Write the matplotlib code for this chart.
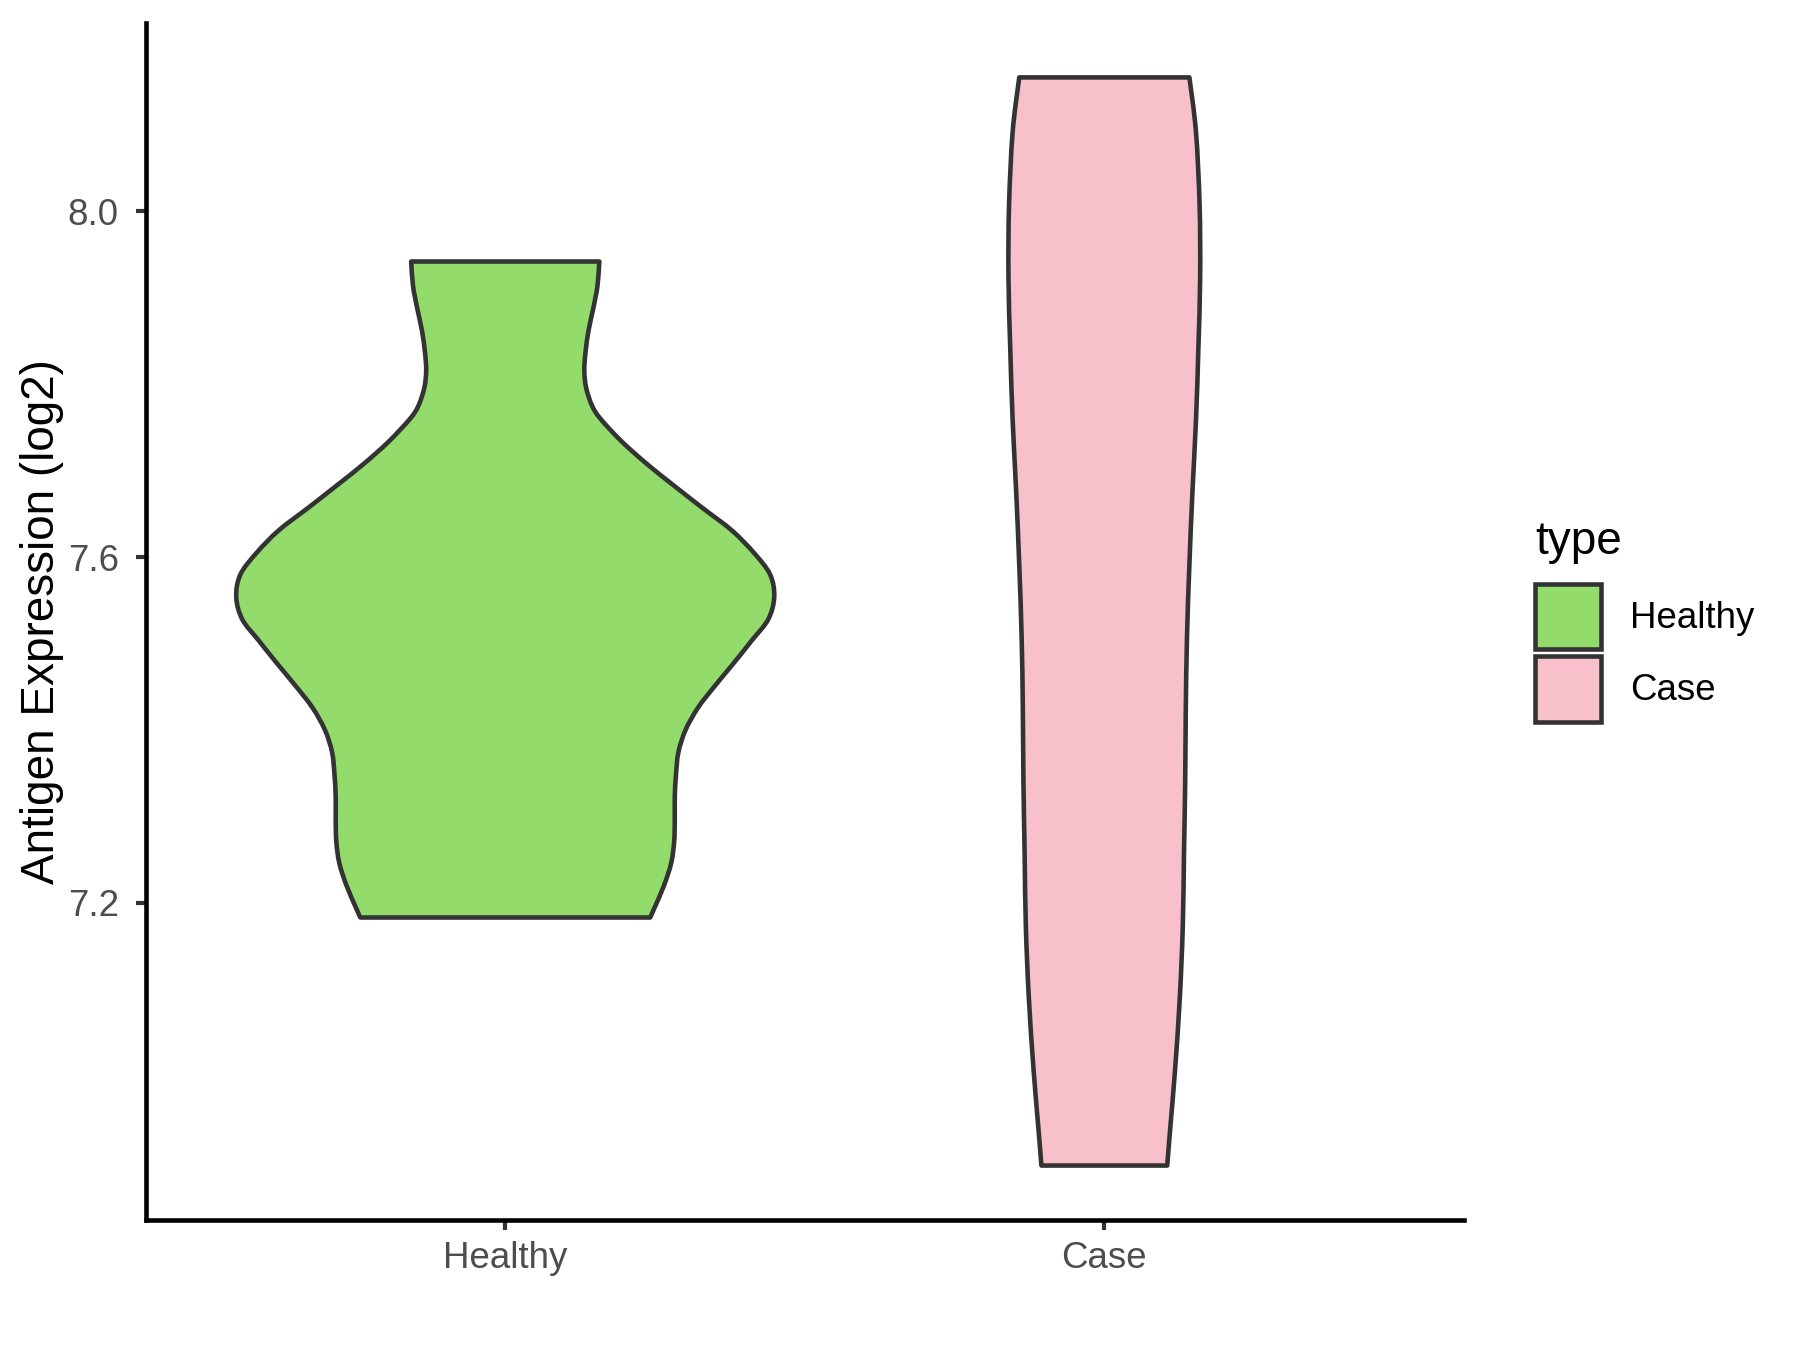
import numpy as np
import matplotlib.pyplot as plt
from matplotlib.patches import Patch, PathPatch
from matplotlib.path import Path

plt.rcParams['font.family'] = ['Liberation Sans', 'DejaVu Sans']

# groups and fill colours (ggplot style)
groups = ['Healthy', 'Case']
fills = ['#93DB6B', '#F7C0CB']

# violin outlines: expression value and half width
healthy_y = [7.942, 7.914, 7.888, 7.862, 7.837, 7.816, 7.796, 7.775, 7.760,
             7.734, 7.708, 7.683, 7.657, 7.631, 7.605, 7.580, 7.554, 7.528,
             7.503, 7.477, 7.451, 7.426, 7.400, 7.374, 7.348, 7.323, 7.297,
             7.271, 7.246, 7.220, 7.194, 7.183]
healthy_w = [0.157, 0.154, 0.147, 0.139, 0.134, 0.132, 0.135, 0.145, 0.159,
             0.194, 0.236, 0.281, 0.329, 0.378, 0.415, 0.442, 0.449, 0.439,
             0.411, 0.381, 0.350, 0.322, 0.301, 0.289, 0.285, 0.283, 0.283,
             0.282, 0.277, 0.265, 0.249, 0.242]

case_y = [8.155, 8.092, 8.008, 7.925, 7.841, 7.758, 7.674, 7.591, 7.507,
          7.424, 7.340, 7.257, 7.173, 7.090, 7.006, 6.939, 6.896]
case_w = [0.142, 0.153, 0.159, 0.160, 0.157, 0.153, 0.147, 0.142, 0.138,
          0.136, 0.135, 0.133, 0.131, 0.126, 0.118, 0.110, 0.105]

outlines = [(healthy_y, healthy_w), (case_y, case_w)]


def smooth_side(pts):
    # catmull-rom through the points, written as cubic bezier segments
    p = np.vstack([pts[0], pts, pts[-1]])
    verts, codes = [], []
    for i in range(1, len(p) - 2):
        c1 = p[i] + (p[i + 1] - p[i - 1]) / 6
        c2 = p[i + 1] - (p[i + 2] - p[i]) / 6
        verts += [c1, c2, p[i + 1]]
        codes += [Path.CURVE4] * 3
    return verts, codes


fig = plt.figure(figsize=(6, 4.5), dpi=300)
ax = fig.add_axes([0.081, 0.0963, 0.7322, 0.8867])

for i, (ys, ws) in enumerate(outlines):
    pos = i + 1
    ys = np.array(ys)
    ws = np.array(ws)
    right = np.column_stack([pos + ws, ys])
    left = np.column_stack([pos - ws, ys])[::-1]
    verts = [right[0]]
    codes = [Path.MOVETO]
    v, c = smooth_side(right)
    verts += v
    codes += c
    verts.append(left[0])
    codes.append(Path.LINETO)
    v, c = smooth_side(left)
    verts += v
    codes += c
    verts.append(right[0])
    codes.append(Path.CLOSEPOLY)
    ax.add_patch(PathPatch(Path(verts, codes), facecolor=fills[i],
                           edgecolor='#333333', linewidth=1.1,
                           joinstyle='round'))

ax.set_xlim(0.4, 2.6)
ax.set_ylim(6.833, 8.218)
ax.set_xticks([1, 2])
ax.set_xticklabels(groups)
ax.set_yticks([7.2, 7.6, 8.0])
ax.set_yticklabels(['7.2', '7.6', '8.0'])

for s in ['top', 'right']:
    ax.spines[s].set_visible(False)
for s in ['left', 'bottom']:
    ax.spines[s].set_linewidth(1.1)
    ax.spines[s].set_color('black')

ax.tick_params(axis='both', length=2.5, width=1.0, color='#333333',
               labelcolor='#4D4D4D', labelsize=8.8)
ax.tick_params(axis='y', pad=4)
ax.tick_params(axis='x', pad=2.5)

ax.set_ylabel('Antigen Expression (log2)', fontsize=11, color='black')
ax.yaxis.set_label_coords(-0.0617, 0.5)

# legend
handles = [Patch(facecolor=fills[i], edgecolor='#333333', linewidth=1.1,
                 label=groups[i]) for i in range(2)]
leg = fig.legend(handles=handles, title='type', loc='center left',
                 bbox_to_anchor=(0.853, 0.540), frameon=False, fontsize=8.8,
                 title_fontsize=11, handlelength=1.8, handleheight=2.38,
                 labelspacing=0.18, handletextpad=0.79, borderpad=0,
                 borderaxespad=0)
leg._legend_box.align = 'left'
leg._legend_box.sep = 4.6

fig.savefig('out.png', dpi=300)
